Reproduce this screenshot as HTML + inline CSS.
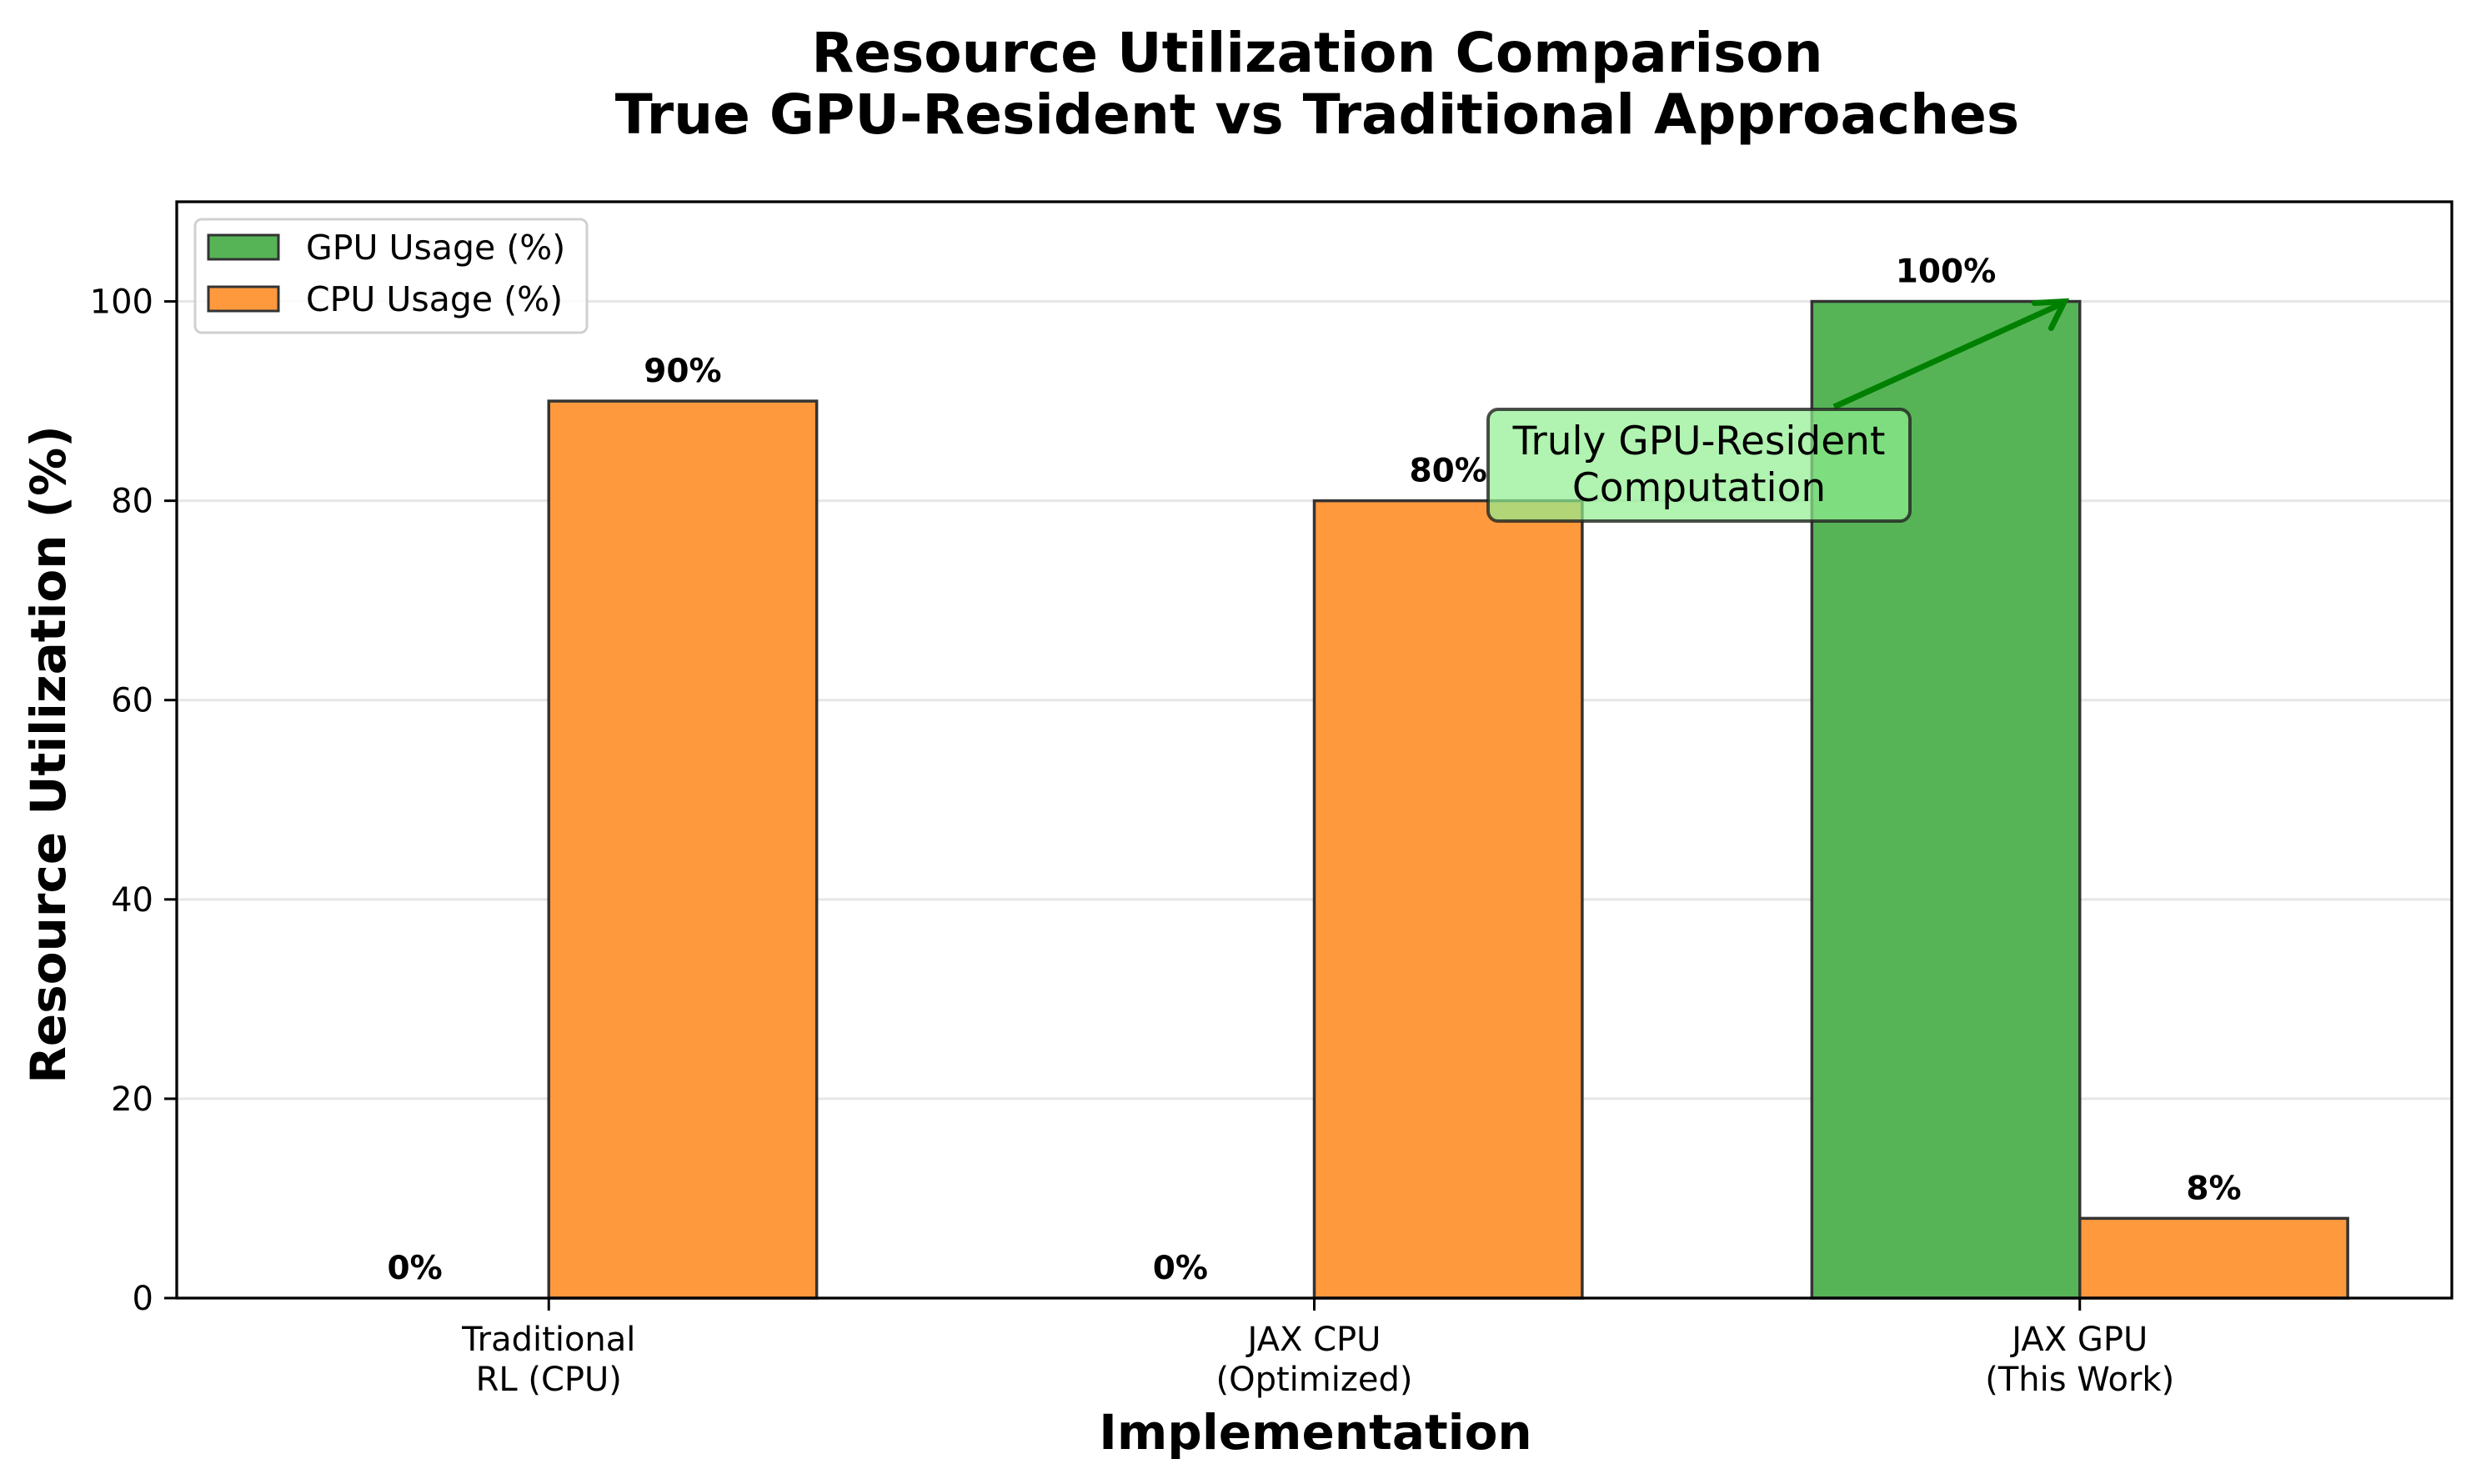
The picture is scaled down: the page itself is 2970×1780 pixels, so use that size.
<!DOCTYPE html>
<html><head><meta charset="utf-8"><style>
body{margin:0;background:#fff}
svg{display:block;font-family:"DejaVu Sans","Liberation Sans",sans-serif}
</style></head><body>
<svg id="chart" width="2970" height="1780" viewBox="0 0 2970 1780" xmlns="http://www.w3.org/2000/svg">
<rect width="2970" height="1780" fill="#fff"/>
<text x="1580" y="86" font-size="66" font-weight="bold" text-anchor="middle">Resource Utilization Comparison</text>
<text x="1580" y="160" font-size="66" font-weight="bold" text-anchor="middle">True GPU-Resident vs Traditional Approaches</text>
<g id="grid"></g>
<g id="bars"></g>
<g id="labels"></g>
<g id="axes"></g>
<g id="annot"></g>
<g>
<rect x="234" y="263" width="470" height="136" rx="8" fill="#fff" fill-opacity="0.8" stroke="#d0d0d0" stroke-width="3"/>
<rect x="250" y="282" width="84" height="29" fill="#56b456" stroke="#333" stroke-width="3"/>
<text x="367" y="311" font-size="41">GPU Usage (%)</text>
<rect x="250" y="344" width="84" height="29" fill="#ff993e" stroke="#333" stroke-width="3"/>
<text x="367" y="373" font-size="41">CPU Usage (%)</text>
</g>
<text x="1578" y="1738" font-size="58" font-weight="bold" text-anchor="middle">Implementation</text>
<text transform="translate(78,905) rotate(-90)" font-size="58" font-weight="bold" text-anchor="middle">Resource Utilization (%)</text>
</svg>
<script>
const categories = [["Traditional","RL (CPU)"],["JAX CPU","(Optimized)"],["JAX GPU","(This Work)"]];
const gpuValues = [0, 0, 100];
const cpuValues = [90, 80, 8];
const yTicks = [0, 20, 40, 60, 80, 100];
const annotText = ["Truly GPU-Resident","Computation"];

const NS = "http://www.w3.org/2000/svg";
const L = 212, R = 2941, T = 242, B = 1557;
const xMin = -0.486, xMax = 2.486, yMax = 110;
const xs = v => L + (v - xMin) / (xMax - xMin) * (R - L);
const ys = v => B - v / yMax * (B - T);
const bw = 0.35;
function mk(tag, attrs, parent, text) {
  const e = document.createElementNS(NS, tag);
  for (const k in attrs) e.setAttribute(k, attrs[k]);
  if (text !== undefined) e.textContent = text;
  document.getElementById(parent).appendChild(e);
  return e;
}
yTicks.forEach(t => {
  const g = mk("line", {x1: L, x2: R, y1: ys(t), y2: ys(t), stroke: "#e6e6e6", "stroke-width": 3}, "grid");
  
  
});
function bar(i, v, off, color, name) {
  const x0 = xs(i + off - bw / 2), x1 = xs(i + off + bw / 2);
  const r = mk("rect", {x: x0, y: ys(v), width: x1 - x0, height: ys(0) - ys(v), fill: color, stroke: "#333", "stroke-width": 3.5}, "bars");
  
  
  const t = mk("text", {x: (x0 + x1) / 2, y: ys(v) - 23, "font-size": 39, "font-weight": "bold", "text-anchor": "middle"}, "labels", v + "%");
  
  
}
categories.forEach((c, i) => {
  bar(i, gpuValues[i], -bw / 2, "#56b456", "gpu-bar");
  bar(i, cpuValues[i], bw / 2, "#ff993e", "cpu-bar");
});
const fr = mk("rect", {x: L, y: T, width: R - L, height: B - T, fill: "none", stroke: "#000", "stroke-width": 3.3}, "axes");


yTicks.forEach(t => {
  const tk = mk("line", {x1: L - 15, x2: L, y1: ys(t), y2: ys(t), stroke: "#000", "stroke-width": 3}, "axes");
  
  
  const tl = mk("text", {x: L - 28, y: ys(t) + 14, "font-size": 40, "text-anchor": "end"}, "axes", String(t));
  
  
});
categories.forEach((c, i) => {
  const tk = mk("line", {x1: xs(i), x2: xs(i), y1: B, y2: B + 15, stroke: "#000", "stroke-width": 3}, "axes");
  
  
  c.forEach((ln, j) => {
    const tl = mk("text", {x: xs(i), y: 1620 + j * 48, "font-size": 40, "text-anchor": "middle"}, "axes", ln);
    
    
  });
});
const tipX = xs(2 - 0.02), tipY = ys(gpuValues[2]);
const ar = mk("line", {x1: 2200, y1: 488, x2: tipX - 6, y2: tipY + 4, stroke: "#008000", "stroke-width": 7}, "annot");


const ah = mk("polyline", {points: `${tipX-36},${tipY+2} ${tipX},${tipY} ${tipX-16},${tipY+32}`, fill: "none", stroke: "#008000", "stroke-width": 7, "stroke-linecap": "round"}, "annot");


const bx = mk("rect", {x: 1785, y: 491, width: 506, height: 134, rx: 12, fill: "#90ee90", "fill-opacity": 0.7, stroke: "#222", "stroke-opacity": 0.8, "stroke-width": 4}, "annot");


annotText.forEach((ln, j) => {
  const t = mk("text", {x: 2038, y: 545 + j * 56, "font-size": 47, "text-anchor": "middle"}, "annot", ln);
  
  
});
</script>
</body></html>
